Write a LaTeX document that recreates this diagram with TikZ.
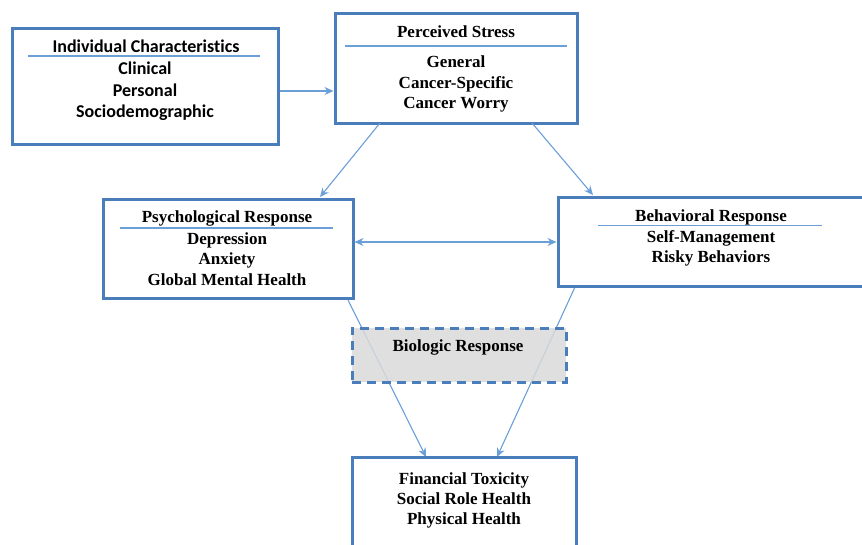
\documentclass[tikz,border=0pt]{standalone}
\usepackage{fontspec}
\setmainfont{Liberation Serif}
\newfontfamily\calfont[Ligatures=NoCommon]{Carlito}
\usetikzlibrary{arrows.meta,calc}
\definecolor{boxblue}{HTML}{4A7EBB}
\definecolor{linkblue}{HTML}{6A9FD8}
\definecolor{biogray}{HTML}{D9D9D9}
\tikzset{
  panel/.style={draw=boxblue, line width=3pt, fill=white, inner sep=0pt},
  dashpanel/.style={draw=boxblue, line width=3pt, fill=biogray, fill opacity=0.85,
    dash pattern=on 9pt off 6pt, inner sep=0pt},
  rule/.style={draw=linkblue, line width=1.2pt},
  link/.style={draw=linkblue, line width=1.1pt, -{Stealth[length=9pt,width=8pt]}},
  twolink/.style={draw=linkblue, line width=1.1pt, {Stealth[length=9pt,width=8pt]}-{Stealth[length=9pt,width=8pt]}},
  sertxt/.style={font=\bfseries\fontsize{17}{20.2}\selectfont, inner sep=0pt, align=center},
  caltxt/.style={font=\calfont\bfseries\fontsize{18}{21.5}\selectfont, inner sep=0pt, align=center},
}
\begin{document}
\begin{tikzpicture}[x=1pt,y=-1pt]
\useasboundingbox (0,0) rectangle (862,544);
\begin{scope}
\clip (0,0) rectangle (862,544);

% connectors drawn first so the biologic box sits over them
\coordinate (psy-out) at (347,298);
\coordinate (beh-out) at (575,287);
\coordinate (fin-in-l) at (426,457);
\coordinate (fin-in-r) at (497,457);
\draw[link] (psy-out) -- (fin-in-l);
\draw[link] (beh-out) -- (fin-in-r);

% boxes
\node[panel, minimum width=266pt, minimum height=116pt] (ind) at (145,86) {};
\node[panel, minimum width=242pt, minimum height=110pt] (ps) at (456,68) {};
\node[panel, minimum width=250pt, minimum height=99pt] (psy) at (228,248.5) {};
\node[panel, minimum width=306pt, minimum height=89pt] (beh) at (711,241.5) {};
\node[dashpanel, minimum width=214pt, minimum height=54pt] (bio) at (459,355) {};
\node[panel, minimum width=224pt, minimum height=110pt] (fin) at (464,512) {};

% Individual Characteristics
\node[caltxt] (ind-t) at (146,46.5) {Individual Characteristics};
\draw[rule] (28,56) -- (260,56);
\node[caltxt] (ind-b) at (145,91.5) {Clinical\\Personal\\Sociodemographic};

% Perceived Stress
\node[sertxt] (ps-t) at (456,32) {Perceived Stress};
\draw[rule] (345,46) -- (567,46);
\node[sertxt] (ps-b) at (456,84) {General\\Cancer-Specific\\Cancer Worry};

% Psychological Response
\node[sertxt] (psy-t) at (227,218.5) {Psychological Response};
\draw[rule] (120,228) -- (333,228);
\node[sertxt] (psy-b) at (227,259) {Depression\\Anxiety\\Global Mental Health};

% Behavioral Response
\node[sertxt] (beh-t) at (711,217.5) {Behavioral Response};
\draw[rule] (598,225.5) -- (822,225.5);
\node[sertxt] (beh-b) at (711,248.5) {Self-Management\\Risky Behaviors};

% Biologic Response
\node[sertxt, text opacity=1] (bio-t) at (458,347.5) {Biologic Response};

% Outcomes
\node[sertxt] (fin-b) at (464,500.5) {Financial Toxicity\\Social Role Health\\Physical Health};

% remaining connectors
\draw[link] (ind.east |- 0,91) -- (ps.west |- 0,91);
\coordinate (ps-l) at (380,123);
\coordinate (ps-r) at (532,123);
\coordinate (psy-in) at (320,197);
\coordinate (beh-in) at (593,195);
\draw[link] (ps-l) -- (psy-in);
\draw[link] (ps-r) -- (beh-in);
\draw[twolink] (psy.east |- 0,242) -- (beh.west |- 0,242);
\end{scope}
\end{tikzpicture}
\end{document}
